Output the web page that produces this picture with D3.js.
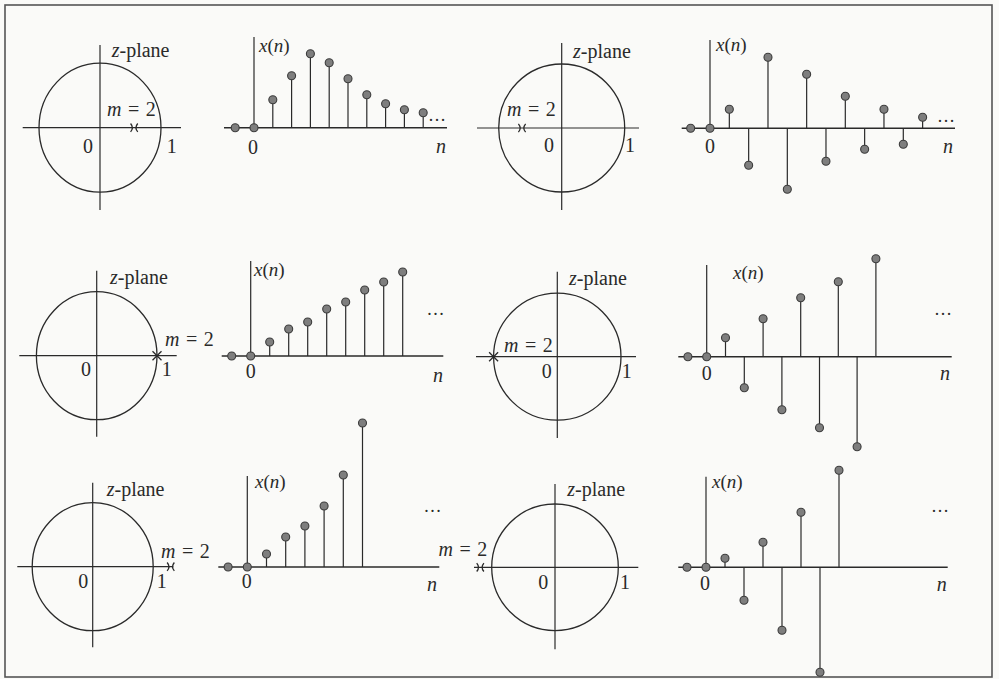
<!DOCTYPE html>
<html><head><meta charset="utf-8">
<script src="https://cdn.jsdelivr.net/npm/d3@7"></script>
<style>
html,body{margin:0;padding:0;background:#fafaf8;}
svg{display:block;}
</style>
</head><body>
<svg id="chart" width="999" height="679"></svg>
<script>
// ---------- DATA (n starts at -1) ----------
const seqDecayPos  = [0, 0, 28, 52, 74, 65, 49, 33, 24, 18, 15];
const seqDecayAlt  = [0, 0, 19, -37, 71, -61, 54, -33, 32, -21, 19, -16, 11];
const seqRampPos   = [0, 0, 14, 27, 34, 47, 54, 66, 74, 84];
const seqRampAlt   = [0, 0, 19, -31, 38, -53, 59, -71, 75, -90, 98];
const seqGrowPos   = [0, 0, 13, 30, 41, 61, 92, 144];
const seqGrowAlt   = [0, 0, 9, -33, 25, -63, 55, -105, 97];
const poleLocations = [0.56, -0.63, 1.0, -1.0, 1.29, -1.18];   // real pole (relative to unit circle)
const poleStyles    = ["arcs", "arcs", "cross", "cross", "arcs", "arcs"];
const poleLabel     = "m = 2";
const circleTicks   = ["0", "1"];
const stemTick      = "0";
const planeLabel    = "z-plane";
const seqLabel      = "x(n)";
const indexLabel    = "n";
const sequences = [seqDecayPos, seqDecayAlt, seqRampPos, seqRampAlt, seqGrowPos, seqGrowAlt];

// ---------- LAYOUT ----------
const circleLayout = [
  {cx:100,   cy:127.7, rx:61,   ry:64.5, hx:[22.7,181],   vy:[45,210],    zp:[111.7,50],   m:[107,108.5],  zero:[88,146],    one:[171.7,146]},
  {cx:561.7, cy:128,   rx:63,   ry:64,   hx:[477,639],    vy:[43,210],    zp:[573,51],     m:[507,108.5],  zero:[549,145],   one:[630,145]},
  {cx:96.7,  cy:355.7, rx:60.3, ry:64,   hx:[19.3,176.7], vy:[270.7,436.7], zp:[110,277], m:[165,339],  zero:[86,369],    one:[166.7,369]},
  {cx:557.3, cy:356.7, rx:63.7, ry:63.5, hx:[476,636],    vy:[271.7,438], zp:[569,277.5],  m:[504,345],  zero:[546.7,370.5], one:[626.7,370.5]},
  {cx:92.7,  cy:566.7, rx:60.5, ry:64,   hx:[17.3,173.3], vy:[482.7,647.3], zp:[106.7,488.5], m:[161,551], zero:[83.3,580.5], one:[161.7,580.5]},
  {cx:555,   cy:567.3, rx:63.3, ry:63.3, hx:[474,638.3],  vy:[484,649.3], zp:[567.3,489],  m:[438.5,549],  zero:[543.3,581.5], one:[625,581.5]}
];
const stemLayout = [
  {x0:254,   dx:18.8,  base:127.7, ax:[224,447],     top:37,    xn:[259,45],     zero:[253,147],   n:[441,146],   dots:[437,115]},
  {x0:710,   dx:19.33, base:128.3, ax:[681.7,955],   top:40,    xn:[716,44],     zero:[710,146], n:[948,146], dots:[946,116]},
  {x0:250.7, dx:19,    base:356,   ax:[221.7,443.3], top:261,   xn:[254,268.5],  zero:[250.7,371], n:[438,374.5], dots:[435.5,309]},
  {x0:706.7, dx:18.8,  base:356.7, ax:[678.3,951.7], top:265,   xn:[733,272],  zero:[706.7,372.5], n:[945,372.5], dots:[943,309]},
  {x0:247.3, dx:19.2,  base:567,   ax:[218.3,439.3], top:476,   xn:[255,481],  zero:[246.7,581], n:[432,584],   dots:[432.5,506]},
  {x0:706,   dx:19,    base:567.3, ax:[678.3,947.7], top:476.7, xn:[712,481],  zero:[705,583],   n:[941.7,584], dots:[940,506]}
];

const INK = "#2a2a2a";
const FS = 20;
const FONT = "Liberation Serif";
const svg = d3.select("#chart");

// frame
svg.append("rect").attr("x",5).attr("y",5).attr("width",987).attr("height",672)
  .attr("fill","none").attr("stroke","#555").attr("stroke-width",1.6);

function styledLabel(g, x, y, str, opts={}) {
  const t = g.append("text").attr("x",x).attr("y",y)
    .attr("dominant-baseline","central")
    .attr("text-anchor", opts.anchor || "start")
    .attr("font-family", FONT)
    .attr("fill", INK)
    .attr("font-size", opts.size || FS);
  if (opts.spacing) t.attr("word-spacing", opts.spacing);
  const italicChars = opts.italic || "";
  let runs = [];
  for (const ch of str) {
    const it = italicChars.includes(ch);
    if (runs.length && runs[runs.length-1].it === it) runs[runs.length-1].s += ch;
    else runs.push({s:ch, it});
  }
  runs.forEach(r => t.append("tspan").attr("font-family", FONT)
    .attr("font-style", r.it ? "italic" : "normal").text(r.s));
  return t;
}

// ---------- Z-PLANE PANELS ----------
circleLayout.forEach((L, i) => {
  const g = svg.append("g");
  const xs = d3.scaleLinear().domain([-1, 1]).range([L.cx - L.rx, L.cx + L.rx]);
  const ys = d3.scaleLinear().domain([-1, 1]).range([L.cy + L.ry, L.cy - L.ry]);
  g.append("line").attr("x1",L.hx[0]).attr("x2",L.hx[1]).attr("y1",ys(0)).attr("y2",ys(0))
    .attr("stroke",INK).attr("stroke-width",1.2);
  g.append("line").attr("x1",xs(0)).attr("x2",xs(0)).attr("y1",L.vy[0]).attr("y2",L.vy[1])
    .attr("stroke",INK).attr("stroke-width",1.2);
  g.append("ellipse").attr("cx",xs(0)).attr("cy",ys(0))
    .attr("rx",xs(1)-xs(0)).attr("ry",ys(0)-ys(1))
    .attr("fill","none").attr("stroke",INK).attr("stroke-width",1.3);
  // pole marker (double pole)
  const px = xs(poleLocations[i]), py = ys(0);
  let d;
  if (poleStyles[i] === "arcs") {
    const h = 4.2, w = 3.6;
    d = `M${px-w},${py-h}Q${px},${py} ${px-w},${py+h}M${px+w},${py-h}Q${px},${py} ${px+w},${py+h}`;
  } else {
    const s = 4.5;
    d = `M${px-s},${py-s}L${px+s},${py+s}M${px-s},${py+s}L${px+s},${py-s}`;
  }
  g.append("path").attr("d",d).attr("stroke",INK).attr("stroke-width",1.3).attr("fill","none");
  styledLabel(g, L.zp[0], L.zp[1], planeLabel, {italic:"z"});
  styledLabel(g, L.m[0], L.m[1], poleLabel, {italic:"m", spacing:1.5});
  styledLabel(g, L.zero[0], L.zero[1], circleTicks[0], {anchor:"middle"});
  styledLabel(g, L.one[0], L.one[1], circleTicks[1], {anchor:"middle"});
});

// ---------- STEM PANELS ----------
stemLayout.forEach((L, i) => {
  const g = svg.append("g");
  const data = sequences[i].map((v, k) => ({n: k - 1, v}));
  const xs = d3.scaleLinear().domain([0, 1]).range([L.x0, L.x0 + L.dx]);
  const ys = d3.scaleLinear().domain([-150, 150]).range([L.base + 150, L.base - 150]);
  g.append("line").attr("x1",L.ax[0]).attr("x2",L.ax[1]).attr("y1",ys(0)).attr("y2",ys(0))
    .attr("stroke",INK).attr("stroke-width",1.4);
  g.append("line").attr("x1",xs(0)).attr("x2",xs(0)).attr("y1",L.top).attr("y2",ys(0))
    .attr("stroke",INK).attr("stroke-width",1.2);
  g.selectAll("line.stem").data(data.filter(d => d.v !== 0)).join("line")
    .attr("class","stem")
    .attr("x1",d => xs(d.n)).attr("x2",d => xs(d.n))
    .attr("y1",ys(0)).attr("y2",d => ys(d.v))
    .attr("stroke",INK).attr("stroke-width",1.2);
  g.selectAll("circle.dot").data(data).join("circle")
    .attr("class","dot")
    .attr("cx",d => xs(d.n)).attr("cy",d => ys(d.v)).attr("r",4)
    .attr("fill","#7e7e7e").attr("stroke","#3c3c3c").attr("stroke-width",1.1);
  styledLabel(g, L.xn[0], L.xn[1], seqLabel, {italic:"xn", size:19});
  styledLabel(g, L.zero[0], L.zero[1], stemTick, {anchor:"middle"});
  styledLabel(g, L.n[0], L.n[1], indexLabel, {italic:"n", anchor:"middle"});
  styledLabel(g, L.dots[0], L.dots[1], "\u2026", {anchor:"middle", size:18});
});
</script>
</body></html>
